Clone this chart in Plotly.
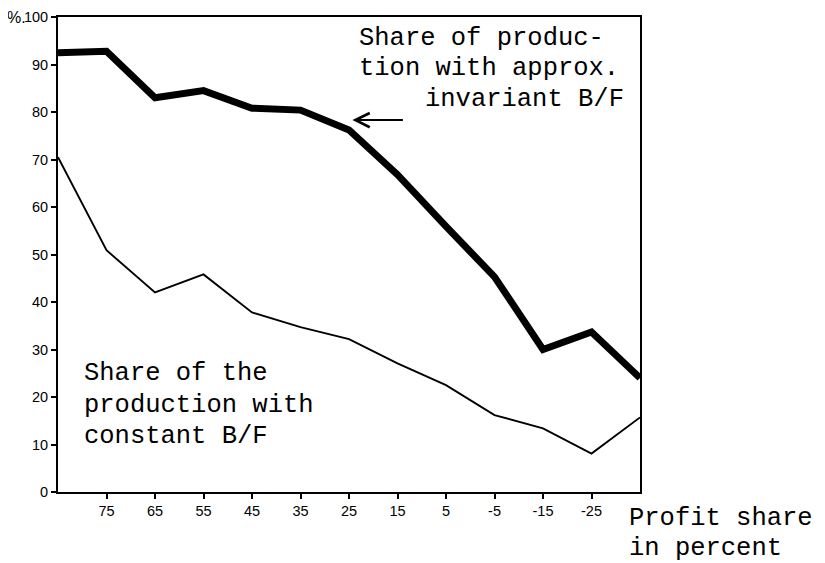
import plotly.graph_objects as go

# Data
profit_share = [85, 75, 65, 55, 45, 35, 25, 15, 5, -5, -15, -25, -35]
share_invariant = [92.5, 92.8, 83.0, 84.5, 80.8, 80.4, 76.2, 66.8, 55.9, 45.3, 30.0, 33.7, 24.0]
share_constant = [70.5, 50.9, 42.0, 45.8, 37.8, 34.7, 32.2, 27.1, 22.5, 16.2, 13.4, 8.1, 15.7]

x_tickvals = [75, 65, 55, 45, 35, 25, 15, 5, -5, -15, -25]
x_ticktext = ["75", "65", "55", "45", "35", "25", "15", "5", "-5", "-15", "-25"]
y_tickvals = [0, 10, 20, 30, 40, 50, 60, 70, 80, 90, 100]
y_ticktext = ["0", "10", "20", "30", "40", "50", "60", "70", "80", "90", "100"]
y_unit = "%."

BODY = 8  # default page body margin
W, H = 825 - BODY, 563 - BODY
# plot area in page pixels
L, R, T, B = 58, 640, 17, 492

fig = go.Figure()
fig.add_trace(go.Scatter(x=profit_share, y=share_invariant, mode="lines",
                         line=dict(color="black", width=7), showlegend=False))
fig.add_trace(go.Scatter(x=profit_share, y=share_constant, mode="lines",
                         line=dict(color="black", width=1.9), showlegend=False))

mono = "Liberation Mono, Courier New, monospace"
sans = "Liberation Sans, Arial, sans-serif"
tickfont = dict(family=sans, size=14.5, color="black")


def px2paper(px, py):
    return (px - L) / (R - L), (B - py) / (B - T)


def add_text(text, px, py, size=25.5, family=mono, xanchor="left"):
    xp, yp = px2paper(px, py)
    fig.add_annotation(x=xp, y=yp, xref="paper", yref="paper", text=text,
                       showarrow=False, xanchor=xanchor, yanchor="middle",
                       font=dict(family=family, size=size, color="black"))


add_text("Share of produc-", 357, 39)
add_text("tion with approx.", 357, 69)
add_text("invariant B/F", 423, 99)

add_text("Share of the", 82, 373)
add_text("production with", 82, 405)
add_text("constant B/F", 82, 436)

add_text("Profit share", 627, 518)
add_text("in percent", 627, 548)

# unit label before the 100 tick
add_text(y_unit, 28, 17, size=16, family=sans, xanchor="right")

# arrow pointing at the thick line
fig.add_annotation(x=24.3, y=78.3, xref="x", yref="y", text="",
                   showarrow=True, arrowhead=5, arrowsize=1.4, arrowwidth=2,
                   arrowcolor="black", ax=52, ay=0)

fig.update_xaxes(range=[85, -35], tickvals=x_tickvals, ticktext=x_ticktext,
                 showgrid=False, zeroline=False, showline=True, linecolor="black",
                 linewidth=2, mirror=True, ticks="outside", ticklen=5, tickwidth=1.5,
                 tickcolor="black", tickfont=tickfont, automargin=False)
fig.update_yaxes(range=[0, 100], tickvals=y_tickvals, ticktext=y_ticktext,
                 showgrid=False, zeroline=False, showline=True, linecolor="black",
                 linewidth=2, mirror=True, ticks="outside", ticklen=5, tickwidth=1.5,
                 tickcolor="black", tickfont=tickfont, automargin=False)

fig.update_layout(width=W, height=H,
                  margin=dict(l=L - BODY, r=W + BODY - R, t=T - BODY, b=H + BODY - B),
                  paper_bgcolor="white", plot_bgcolor="white", showlegend=False)

fig.write_html("out.html")
